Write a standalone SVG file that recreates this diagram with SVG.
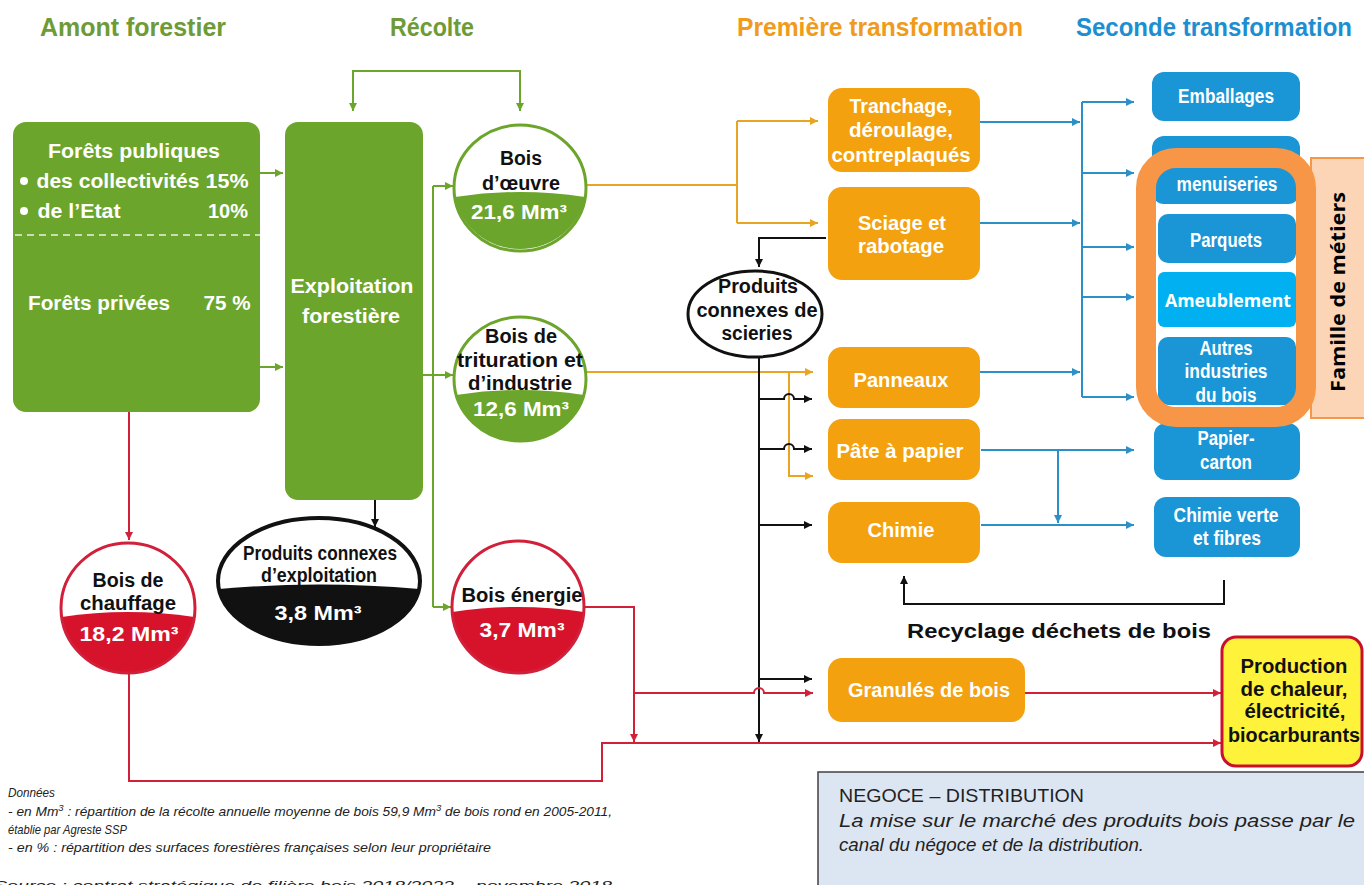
<svg xmlns="http://www.w3.org/2000/svg" width="1364" height="885" viewBox="0 0 1364 885">
<style>
.lbl{font-family:'Liberation Sans Narrow','Liberation Sans',Arial,sans-serif;font-weight:bold;text-anchor:middle;font-size:20px}
.hdr{font-family:'Liberation Sans Narrow','Liberation Sans',Arial,sans-serif;font-weight:bold;font-size:26px}
.w{fill:#ffffff}
.k{fill:#111111}
.note{font-family:'Liberation Sans',Arial,sans-serif;font-style:italic;font-size:13px;fill:#222}
.cal{font-family:'Liberation Sans','Open Sans',Arial,sans-serif;font-size:18px;fill:#222}
.green{fill:#6ca52c}
.orange{fill:#f4a10f}
.blue{fill:#1a95d6}
.cg{stroke:#6ca52c;stroke-width:2;fill:none}
.cy{stroke:#e9a521;stroke-width:2;fill:none}
.ck{stroke:#111;stroke-width:2;fill:none}
.cr{stroke:#d0203a;stroke-width:2;fill:none}
.cb{stroke:#2b90c8;stroke-width:2;fill:none}
</style>
<defs>
<marker id="ag" viewBox="0 0 10 10" refX="10" refY="5" markerWidth="9" markerHeight="8" orient="auto" markerUnits="userSpaceOnUse"><path d="M0,0 L10,5 L0,10 z" fill="#6ca52c"/></marker>
<marker id="ay" viewBox="0 0 10 10" refX="10" refY="5" markerWidth="9" markerHeight="8" orient="auto" markerUnits="userSpaceOnUse"><path d="M0,0 L10,5 L0,10 z" fill="#e9a521"/></marker>
<marker id="ak" viewBox="0 0 10 10" refX="10" refY="5" markerWidth="9" markerHeight="8" orient="auto" markerUnits="userSpaceOnUse"><path d="M0,0 L10,5 L0,10 z" fill="#111"/></marker>
<marker id="ar" viewBox="0 0 10 10" refX="10" refY="5" markerWidth="9" markerHeight="8" orient="auto" markerUnits="userSpaceOnUse"><path d="M0,0 L10,5 L0,10 z" fill="#d0203a"/></marker>
<marker id="ab" viewBox="0 0 10 10" refX="10" refY="5" markerWidth="9" markerHeight="8" orient="auto" markerUnits="userSpaceOnUse"><path d="M0,0 L10,5 L0,10 z" fill="#2b90c8"/></marker>
</defs>
<rect width="1364" height="885" fill="#ffffff"/>

<g id="headers">
<text class="hdr" x="40" y="36" fill="#6e9b35" textLength="186" lengthAdjust="spacingAndGlyphs">Amont forestier</text>
<text class="hdr" x="390" y="36" fill="#6e9b35" textLength="84" lengthAdjust="spacingAndGlyphs">Récolte</text>
<text class="hdr" x="737" y="36" fill="#f09b1b" textLength="286" lengthAdjust="spacingAndGlyphs">Première transformation</text>
<text class="hdr" x="1076" y="36" fill="#1d8fd0" textLength="276" lengthAdjust="spacingAndGlyphs">Seconde transformation</text>
</g>

<g id="connectors">
<path class="cg" d="M437 71 H353 V111" marker-end="url(#ag)"/>
<path class="cg" d="M437 71 H520 V111" marker-end="url(#ag)"/>
<path class="cg" d="M260 173 H283" marker-end="url(#ag)"/>
<path class="cg" d="M260 367 H283" marker-end="url(#ag)"/>
<path class="cg" d="M433 186 V607"/>
<path class="cg" d="M433 186 H453" marker-end="url(#ag)"/>
<path class="cg" d="M423 375 H453" marker-end="url(#ag)"/>
<path class="cg" d="M433 607 H451" marker-end="url(#ag)"/>
<path class="cy" d="M586 185 H737"/>
<path class="cy" d="M737 121 V223"/>
<path class="cy" d="M737 121 H818" marker-end="url(#ay)"/>
<path class="cy" d="M737 223 H818" marker-end="url(#ay)"/>
<path class="cy" d="M586 372 H813" marker-end="url(#ay)"/>
<path class="cy" d="M789 372 V476 H813" marker-end="url(#ay)"/>
<path class="ck" d="M375 500 V527" marker-end="url(#ak)"/>
<path class="ck" d="M826 238 H759 V267" marker-end="url(#ak)"/>
<path class="ck" d="M759 357 V742" marker-end="url(#ak)"/>
<path class="ck" d="M759 399 H784 A5 5 0 0 1 794 399 H812" marker-end="url(#ak)"/>
<path class="ck" d="M759 449 H784 A5 5 0 0 1 794 449 H812" marker-end="url(#ak)"/>
<path class="ck" d="M759 525 H812" marker-end="url(#ak)"/>
<path class="ck" d="M759 679 H812" marker-end="url(#ak)"/>
<path class="ck" d="M1224 580 V604 H904 V576" marker-end="url(#ak)"/>
<path class="cr" d="M129 412 V540" marker-end="url(#ar)"/>
<path class="cr" d="M129 673 V781 H602 V743 H1221" marker-end="url(#ar)"/>
<path class="cr" d="M584 607 H634 V742" marker-end="url(#ar)"/>
<path class="cr" d="M634 693 H754 A5 5 0 0 1 764 693 H813" marker-end="url(#ar)"/>
<path class="cr" d="M1025 693 H1221" marker-end="url(#ar)"/>
<path class="cb" d="M980 122 H1080" marker-end="url(#ab)"/>
<path class="cb" d="M980 223 H1080" marker-end="url(#ab)"/>
<path class="cb" d="M980 372 H1080" marker-end="url(#ab)"/>
<path class="cb" d="M1082 102 V397"/>
<path class="cb" d="M1082 102 H1134" marker-end="url(#ab)"/>
<path class="cb" d="M1082 173 H1134" marker-end="url(#ab)"/>
<path class="cb" d="M1082 247 H1134" marker-end="url(#ab)"/>
<path class="cb" d="M1082 297 H1134" marker-end="url(#ab)"/>
<path class="cb" d="M1082 397 H1134" marker-end="url(#ab)"/>
<path class="cb" d="M981 450 H1134" marker-end="url(#ab)"/>
<path class="cb" d="M981 525 H1134" marker-end="url(#ab)"/>
<path class="cb" d="M1058 450 V523" marker-end="url(#ab)"/>
</g>

<g id="forets">
<rect class="green" x="13" y="122" width="247" height="290" rx="13"/>
<line x1="15" y1="235" x2="260" y2="235" stroke="#ffffff" stroke-width="1.5" stroke-dasharray="7 5" opacity="0.85"/>
<text class="lbl w" x="134" y="158" font-size="22" textLength="172" lengthAdjust="spacingAndGlyphs">Forêts publiques</text>
<circle cx="24" cy="181" r="4" fill="#fff"/>
<text class="lbl w" x="118" y="188" font-size="22" textLength="163" lengthAdjust="spacingAndGlyphs">des collectivités</text>
<text class="lbl w" x="227" y="188" font-size="22" font-weight="normal" textLength="43" lengthAdjust="spacingAndGlyphs">15%</text>
<circle cx="24" cy="211" r="4" fill="#fff"/>
<text class="lbl w" x="79" y="218" font-size="22" textLength="83" lengthAdjust="spacingAndGlyphs">de l’Etat</text>
<text class="lbl w" x="228" y="218" font-size="22" font-weight="normal" textLength="40" lengthAdjust="spacingAndGlyphs">10%</text>
<text class="lbl w" x="99" y="310" font-size="22" textLength="142" lengthAdjust="spacingAndGlyphs">Forêts privées</text>
<text class="lbl w" x="227" y="310" font-size="22" font-weight="normal" textLength="47" lengthAdjust="spacingAndGlyphs">75 %</text>
</g>

<g id="exploitation">
<rect class="green" x="285" y="122" width="138" height="378" rx="13"/>
<text class="lbl w" x="352" y="293" font-size="22" textLength="123" lengthAdjust="spacingAndGlyphs">Exploitation</text>
<text class="lbl w" x="351" y="323" font-size="22" textLength="98" lengthAdjust="spacingAndGlyphs">forestière</text>
</g>

<g id="bois-oeuvre">
<ellipse cx="520" cy="188" rx="66" ry="63" fill="#fff"/>
<path d="M455 197 Q520 187 585 197 A66 63 0 0 1 455 197 Z" fill="#6ca52c"/>
<ellipse cx="520" cy="188" rx="66" ry="63" fill="none" stroke="#6ca52c" stroke-width="3"/>
<text class="lbl k" x="521" y="165" textLength="42" lengthAdjust="spacingAndGlyphs">Bois</text>
<text class="lbl k" x="521" y="190" textLength="78" lengthAdjust="spacingAndGlyphs">d’œuvre</text>
<text class="lbl w" x="519" y="219" textLength="96" lengthAdjust="spacingAndGlyphs">21,6 Mm³</text>
</g>

<g id="bois-trituration">
<ellipse cx="520" cy="379" rx="66" ry="62" fill="#fff"/>
<path d="M456 395 Q520 385 584 395 A66 62 0 0 1 456 395 Z" fill="#6ca52c"/>
<ellipse cx="520" cy="379" rx="66" ry="62" fill="none" stroke="#6ca52c" stroke-width="3"/>
<text class="lbl k" x="521" y="343" textLength="72" lengthAdjust="spacingAndGlyphs">Bois de</text>
<text class="lbl k" x="520" y="367" textLength="126" lengthAdjust="spacingAndGlyphs">trituration et</text>
<text class="lbl k" x="520" y="390" textLength="104" lengthAdjust="spacingAndGlyphs">d’industrie</text>
<text class="lbl w" x="521" y="416" textLength="96" lengthAdjust="spacingAndGlyphs">12,6 Mm³</text>
</g>

<g id="bois-energie">
<ellipse cx="518" cy="607" rx="66" ry="66" fill="#fff"/>
<path d="M452.2 612 Q518 602 583.8 612 A66 66 0 0 1 452.2 612 Z" fill="#d7132b"/>
<ellipse cx="518" cy="607" rx="66" ry="66" fill="none" stroke="#d0203a" stroke-width="3"/>
<text class="lbl k" x="522" y="602" textLength="121" lengthAdjust="spacingAndGlyphs">Bois énergie</text>
<text class="lbl w" x="522" y="637" textLength="85" lengthAdjust="spacingAndGlyphs">3,7 Mm³</text>
</g>

<g id="bois-chauffage">
<ellipse cx="128" cy="608" rx="67" ry="65" fill="#fff"/>
<path d="M61.6 617 Q128 607 194.4 617 A67 65 0 0 1 61.6 617 Z" fill="#d7132b"/>
<ellipse cx="128" cy="608" rx="67" ry="65" fill="none" stroke="#d0203a" stroke-width="3"/>
<text class="lbl k" x="128" y="587" textLength="71" lengthAdjust="spacingAndGlyphs">Bois de</text>
<text class="lbl k" x="128" y="610" textLength="96" lengthAdjust="spacingAndGlyphs">chauffage</text>
<text class="lbl w" x="129" y="641" textLength="99" lengthAdjust="spacingAndGlyphs">18,2 Mm³</text>
</g>

<g id="produits-connexes-exploitation">
<ellipse cx="319" cy="581" rx="101" ry="63" fill="#fff"/>
<path d="M218.8 589 Q319 580 419.2 589 A101 63 0 0 1 218.8 589 Z" fill="#111"/>
<ellipse cx="319" cy="581" rx="101" ry="63" fill="none" stroke="#111" stroke-width="4"/>
<text class="lbl k" x="320" y="560" font-weight="normal" textLength="154" lengthAdjust="spacingAndGlyphs">Produits connexes</text>
<text class="lbl k" x="319" y="582" font-weight="normal" textLength="116" lengthAdjust="spacingAndGlyphs">d’exploitation</text>
<text class="lbl w" x="318" y="620" font-weight="normal" textLength="87" lengthAdjust="spacingAndGlyphs">3,8 Mm³</text>
</g>

<g id="produits-connexes-scieries">
<ellipse cx="755" cy="314" rx="67" ry="43" fill="#fff" stroke="#111" stroke-width="3"/>
<text class="lbl k" x="758" y="293" textLength="80" lengthAdjust="spacingAndGlyphs">Produits</text>
<text class="lbl k" x="757" y="317" textLength="121" lengthAdjust="spacingAndGlyphs">connexes de</text>
<text class="lbl k" x="757" y="340" textLength="71" lengthAdjust="spacingAndGlyphs">scieries</text>
</g>

<g id="tranchage">
<rect class="orange" x="828" y="88" width="152" height="84" rx="14"/>
<text class="lbl w" x="901" y="113" textLength="103" lengthAdjust="spacingAndGlyphs">Tranchage,</text>
<text class="lbl w" x="901" y="137" textLength="104" lengthAdjust="spacingAndGlyphs">déroulage,</text>
<text class="lbl w" x="901" y="162" textLength="139" lengthAdjust="spacingAndGlyphs">contreplaqués</text>
</g>
<g id="sciage">
<rect class="orange" x="828" y="187" width="152" height="93" rx="14"/>
<text class="lbl w" x="902" y="230" textLength="88" lengthAdjust="spacingAndGlyphs">Sciage et</text>
<text class="lbl w" x="901" y="253" textLength="86" lengthAdjust="spacingAndGlyphs">rabotage</text>
</g>
<g id="panneaux">
<rect class="orange" x="828" y="347" width="152" height="61" rx="14"/>
<text class="lbl w" x="901" y="387" textLength="95" lengthAdjust="spacingAndGlyphs">Panneaux</text>
</g>
<g id="pate-papier">
<rect class="orange" x="828" y="419" width="152" height="61" rx="14"/>
<text class="lbl w" x="900" y="458" textLength="127" lengthAdjust="spacingAndGlyphs">Pâte à papier</text>
</g>
<g id="chimie">
<rect class="orange" x="828" y="502" width="152" height="61" rx="14"/>
<text class="lbl w" x="901" y="537" textLength="67" lengthAdjust="spacingAndGlyphs">Chimie</text>
</g>
<g id="granules">
<rect class="orange" x="828" y="658" width="197" height="64" rx="14"/>
<text class="lbl w" x="929" y="697" textLength="162" lengthAdjust="spacingAndGlyphs">Granulés de bois</text>
</g>

<g id="recyclage">
<text class="lbl k" x="1059" y="638" font-size="26" textLength="304" lengthAdjust="spacingAndGlyphs">Recyclage déchets de bois</text>
</g>

<g id="production">
<rect x="1222" y="637" width="140" height="129" rx="14" fill="#fff23a" stroke="#c8102e" stroke-width="3"/>
<text class="lbl k" x="1294" y="673" textLength="107" lengthAdjust="spacingAndGlyphs">Production</text>
<text class="lbl k" x="1294" y="696" textLength="107" lengthAdjust="spacingAndGlyphs">de chaleur,</text>
<text class="lbl k" x="1295" y="718" textLength="101" lengthAdjust="spacingAndGlyphs">électricité,</text>
<text class="lbl k" x="1294" y="742" textLength="132" lengthAdjust="spacingAndGlyphs">biocarburants</text>
</g>

<g id="emballages">
<rect class="blue" x="1152" y="72" width="148" height="49" rx="12"/>
<text class="lbl w" x="1226" y="103" textLength="96" lengthAdjust="spacingAndGlyphs">Emballages</text>
</g>
<g id="charpentes">
<rect class="blue" x="1152" y="136" width="148" height="68" rx="12"/>
</g>
<g id="menuiseries">
<rect class="blue" x="1158" y="170" width="138" height="33" rx="10"/>
<text class="lbl w" x="1227" y="191" textLength="101" lengthAdjust="spacingAndGlyphs">menuiseries</text>
</g>
<g id="parquets">
<rect class="blue" x="1158" y="214" width="138" height="49" rx="10"/>
<text class="lbl w" x="1226" y="247" textLength="72" lengthAdjust="spacingAndGlyphs">Parquets</text>
</g>
<g id="ameublement">
<rect x="1158" y="272" width="138" height="55" rx="6" fill="#00b0f0"/>
<text x="1228" y="307" text-anchor="middle" font-family="'Open Sans','Liberation Sans',Arial,sans-serif" font-weight="bold" font-size="17" fill="#fff" textLength="126" lengthAdjust="spacingAndGlyphs">Ameublement</text>
</g>
<g id="autres">
<rect class="blue" x="1158" y="337" width="138" height="68" rx="10"/>
<text class="lbl w" x="1226" y="355" textLength="53" lengthAdjust="spacingAndGlyphs">Autres</text>
<text class="lbl w" x="1226" y="378" textLength="83" lengthAdjust="spacingAndGlyphs">industries</text>
<text class="lbl w" x="1226" y="402" textLength="61" lengthAdjust="spacingAndGlyphs">du bois</text>
</g>
<g id="papier-carton">
<rect class="blue" x="1154" y="423" width="146" height="57" rx="12"/>
<text class="lbl w" x="1226" y="445" textLength="57" lengthAdjust="spacingAndGlyphs">Papier-</text>
<text class="lbl w" x="1226" y="469" textLength="52" lengthAdjust="spacingAndGlyphs">carton</text>
</g>
<g id="chimie-verte">
<rect class="blue" x="1154" y="497" width="146" height="60" rx="12"/>
<text class="lbl w" x="1226" y="522" textLength="105" lengthAdjust="spacingAndGlyphs">Chimie verte</text>
<text class="lbl w" x="1227" y="545" textLength="68" lengthAdjust="spacingAndGlyphs">et fibres</text>
</g>

<g id="famille-metiers">
<rect x="1311" y="158" width="60" height="260" fill="#fbd5b5" stroke="#f79646" stroke-width="2"/>
<rect x="1146" y="158" width="160" height="259" rx="30" fill="none" stroke="#f79646" stroke-width="20"/>
<text transform="translate(1345,292) rotate(-90)" text-anchor="middle" font-family="'Open Sans','Liberation Sans',Arial,sans-serif" font-weight="bold" font-size="20" fill="#000" textLength="200" lengthAdjust="spacingAndGlyphs">Famille de métiers</text>
</g>

<g id="negoce">
<rect x="818" y="772" width="560" height="130" fill="#dce6f2" stroke="#404040" stroke-width="1.5"/>
<text class="cal" x="839" y="802" textLength="245" lengthAdjust="spacingAndGlyphs">NEGOCE – DISTRIBUTION</text>
<text class="cal" x="839" y="827" font-style="italic" textLength="516" lengthAdjust="spacingAndGlyphs">La mise sur le marché des produits bois passe par le</text>
<text class="cal" x="839" y="851" font-style="italic" textLength="305" lengthAdjust="spacingAndGlyphs">canal du négoce et de la distribution.</text>
</g>

<g id="notes">
<text class="note" x="8" y="797" textLength="47" lengthAdjust="spacingAndGlyphs">Données</text>
<text class="note" x="8" y="816" textLength="604" lengthAdjust="spacingAndGlyphs">- en Mm<tspan dy="-5" font-size="9">3</tspan><tspan dy="5"> : répartition de la récolte annuelle moyenne de bois 59,9 Mm</tspan><tspan dy="-5" font-size="9">3</tspan><tspan dy="5"> de bois rond en 2005-2011,</tspan></text>
<text class="note" x="8" y="834" textLength="119" lengthAdjust="spacingAndGlyphs">établie par Agreste SSP</text>
<text class="note" x="8" y="852" textLength="483" lengthAdjust="spacingAndGlyphs">- en % : répartition des surfaces forestières françaises selon leur propriétaire</text>
<text class="note" x="-6" y="890" font-size="18" textLength="618" lengthAdjust="spacingAndGlyphs">Source : contrat stratégique de filière bois 2018/2022 – novembre 2018</text>
</g>
</svg>
